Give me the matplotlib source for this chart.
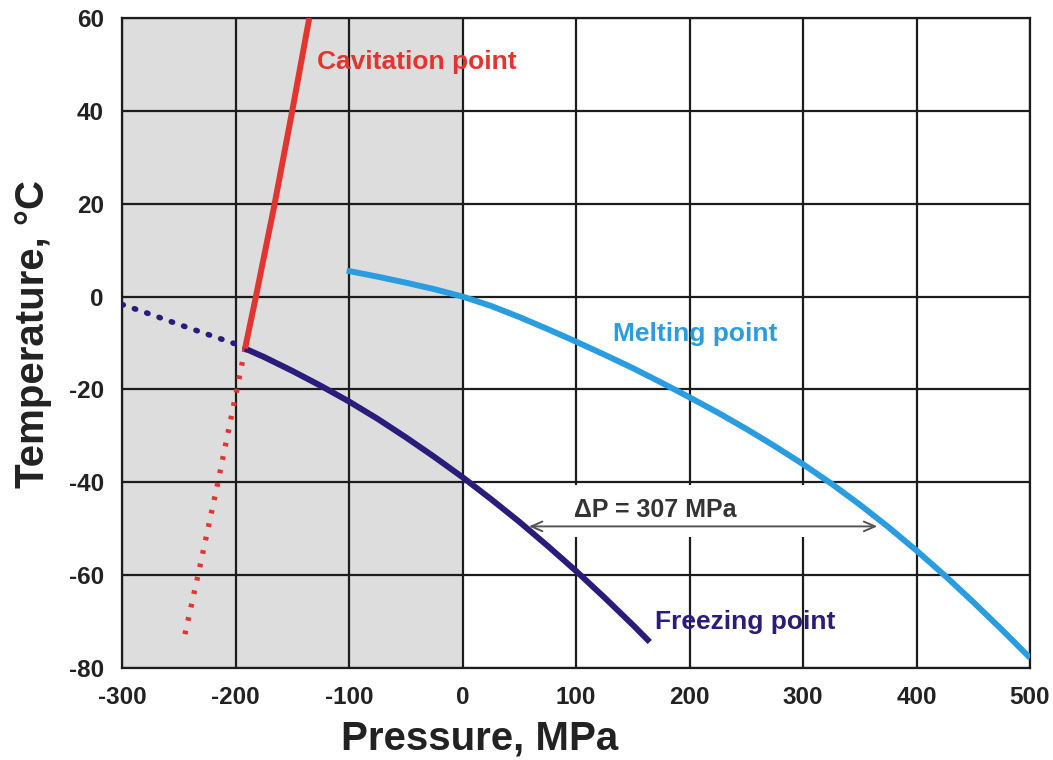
import matplotlib
matplotlib.use("Agg")
import matplotlib.pyplot as plt
from matplotlib.patches import Rectangle

plt.rcParams['font.family'] = ['Liberation Sans', 'DejaVu Sans']
plt.rcParams['font.weight'] = 'bold'

# Melting point of ice vs pressure
melt_p = [-102, -75, -50, -25, 0, 25, 50, 75, 100, 125, 150, 175, 200, 225,
          250, 275, 300, 325, 350, 375, 400, 425, 450, 475, 500]
melt_t = [5.6, 4.3, 3.0, 1.6, 0.0, -2.0, -4.4, -7.0, -9.7, -12.5, -15.4, -18.5,
          -21.7, -25.0, -28.5, -32.2, -36.1, -40.3, -44.8, -49.6, -54.7, -60.1,
          -65.8, -71.7, -77.8]

# Freezing point (homogeneous nucleation); dotted part below the cavitation limit
freeze_p = [-191.6, -175, -150, -125, -100, -75, -50, -25, 0, 25, 50, 75, 100,
            125, 150, 165]
freeze_t = [-11.2, -13.0, -16.0, -19.2, -22.6, -26.3, -30.3, -34.5, -38.9,
            -43.6, -48.5, -53.7, -59.1, -64.8, -70.7, -74.4]
freeze_ext_p = [-300, -275, -250, -225, -200, -191.6]
freeze_ext_t = [-1.7, -3.8, -6.0, -8.1, -10.2, -11.2]

# Cavitation point; dotted part below the freezing curve
cav_p = [-191.6, -182, -165.5, -150, -135]
cav_t = [-11.2, 0, 20, 40, 60]
cav_ext_p = [-191.6, -198.8, -215.5, -233, -245]
cav_ext_t = [-11.2, -20, -40, -60, -73.2]

# Pressure gap annotation
delta_p = 307
delta_p_center = 212
delta_p_temp = -49.5

x_ticks = [-300, -200, -100, 0, 100, 200, 300, 400, 500]
y_ticks = [-80, -60, -40, -20, 0, 20, 40, 60]

RED = '#e2352f'
NAVY = '#2a1c7a'
BLUE = '#2a9de0'
GRID = '#1c1c1c'

fig = plt.figure(figsize=(10.53, 7.6), dpi=100)
ax = fig.add_axes([122 / 1053, 1 - 668 / 760, 908 / 1053, 650 / 760])

ax.set_xlim(-300, 500)
ax.set_ylim(-80, 60)
ax.set_xticks(x_ticks)
ax.set_yticks(y_ticks)
ax.set_xticklabels([str(v) for v in x_ticks])
ax.set_yticklabels([str(v) for v in y_ticks])
ax.tick_params(length=0, labelsize=17.5, pad=13)
for lab in ax.get_xticklabels() + ax.get_yticklabels():
    lab.set_fontweight('bold')
    lab.set_color('#222222')

# negative-pressure region
ax.axvspan(-300, 0, color='#dddddd', zorder=0.2, lw=0)

ax.set_axisbelow(True)
ax.grid(True, color=GRID, lw=1.6)
for sp in ax.spines.values():
    sp.set_color(GRID)
    sp.set_linewidth(1.6)

# white backing behind the pressure-gap label
ax.add_patch(Rectangle((68, -51.8), 292, 11.2, facecolor='white',
                       edgecolor='none', zorder=1))

lw = 4.3
ax.plot(freeze_ext_p, freeze_ext_t, color=NAVY, lw=4.0, dashes=(0.25, 2.1),
        dash_capstyle='round', zorder=3)
ax.plot(cav_ext_p, cav_ext_t, color=RED, lw=3.8, dashes=(0.7, 1.9),
        dash_capstyle='butt', zorder=3)
ax.plot(melt_p, melt_t, color=BLUE, lw=lw, solid_capstyle='butt',
        solid_joinstyle='round', zorder=3)
ax.plot(freeze_p, freeze_t, color=NAVY, lw=lw, solid_capstyle='butt',
        solid_joinstyle='round', zorder=4)
ax.plot(cav_p, cav_t, color=RED, lw=lw, solid_capstyle='butt',
        solid_joinstyle='round', zorder=5)

ax.annotate('', xy=(delta_p_center + delta_p / 2, delta_p_temp),
            xytext=(delta_p_center - delta_p / 2, delta_p_temp),
            arrowprops=dict(arrowstyle='<->,head_length=0.8,head_width=0.35',
                            color='#555555', lw=1.4, shrinkA=0, shrinkB=0),
            zorder=2)
ax.text(170, -47.4, f'\u0394P = {delta_p} MPa', ha='center', va='baseline',
        fontsize=18, fontweight='bold', color='#333333', zorder=2)

ax.text(-128.5, 49.0, 'Cavitation point', color=RED, fontsize=19,
        fontweight='bold', ha='left', va='baseline', zorder=6)
ax.text(132.9, -9.6, 'Melting point', color=BLUE, fontsize=19,
        fontweight='bold', ha='left', va='baseline', zorder=6)
ax.text(169.6, -71.5, 'Freezing point', color=NAVY, fontsize=19,
        fontweight='bold', ha='left', va='baseline', zorder=6)

ax.set_xlabel('Pressure, MPa', fontsize=29, fontweight='bold', color='#222222')
ax.xaxis.set_label_coords((480 - 122) / 908, (668 - 750) / 650)
ax.xaxis.label.set_va('baseline')
ax.set_ylabel('Temperature, \u00b0C', fontsize=29, fontweight='bold', color='#222222')
ax.yaxis.set_label_coords((33 - 122) / 908, (668 - 334) / 650)
ax.yaxis.label.set_va('center')

fig.savefig('out.png', dpi=100)
